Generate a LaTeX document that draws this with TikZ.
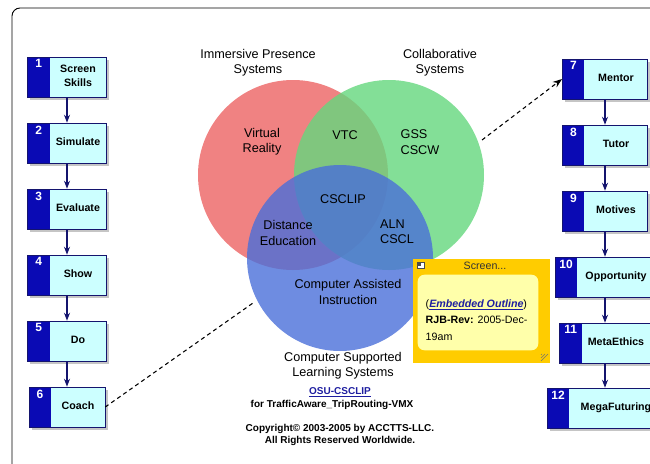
\documentclass[tikz,border=0pt]{standalone}
\usepackage{fontspec}
\setmainfont{Liberation Sans}
\usetikzlibrary{arrows.meta,shadows}

\definecolor{stepblue}{RGB}{10,10,180}
\definecolor{stepfill}{RGB}{204,255,255}
\definecolor{navy}{RGB}{20,20,110}
\definecolor{redc}{RGB}{240,130,130}
\definecolor{greenc}{RGB}{100,215,125}
\definecolor{bluec}{RGB}{74,111,217}
\definecolor{notegold}{RGB}{255,204,0}
\definecolor{notein}{RGB}{255,255,170}
\definecolor{linkblue}{RGB}{30,30,160}

\newcommand{\boxtext}[1]{\hspace*{16.5pt}\begin{tabular}{@{}c@{}}#1\end{tabular}}

\begin{document}
\begin{tikzpicture}[x=0.75pt,y=-0.75pt,
	stepbox/.style={rectangle, draw=navy, fill=stepfill, minimum height=30pt, inner sep=1pt,
		font=\bfseries\fontsize{8}{10.5}\selectfont,
		drop shadow={shadow xshift=2pt, shadow yshift=-2pt, fill=black!45},
		path picture={\fill[stepblue] (path picture bounding box.north west) rectangle ([xshift=16.5pt]path picture bounding box.south west);}},
	numtext/.style={anchor=north west, minimum width=16.5pt, inner xsep=0pt, inner ysep=2pt, text=white, font=\bfseries\fontsize{9}{9}\selectfont},
	venntext/.style={align=center, font=\fontsize{9.5}{11.5}\selectfont},
	note/.style={rectangle, fill=notegold, minimum width=102.75pt, minimum height=78pt},
	credit/.style={align=center, font=\bfseries\fontsize{7.5}{9.5}\selectfont},
	flow/.style={navy, line width=1pt, ->},
	link/.style={black, line width=0.8pt, dash pattern=on 3pt off 2.5pt},
	>={Stealth[length=6pt, width=4.5pt]}]

	\useasboundingbox (0,0) rectangle (650,464);
	\draw[line width=0.7pt, rounded corners=6pt] (12,480) -- (12,8) -- (670,8);

	%Circles
	\fill[redc] (293,175) circle[radius=71.25pt];
	\fill[greenc, fill opacity=0.8] (389,175) circle[radius=71.25pt];
	\fill[bluec, fill opacity=0.8] (340,258) circle[radius=69.75pt];

	%Nodes
	\node[stepbox, minimum width=59pt, label={[numtext]north west:1}]	(s1)	at (67,77)	{\boxtext{Screen\\Skills}};
	\node[stepbox, minimum width=59pt, label={[numtext]north west:2}]	(s2)	at (67,143)	{\boxtext{Simulate}};
	\node[stepbox, minimum width=59pt, label={[numtext]north west:3}]	(s3)	at (67,209)	{\boxtext{Evaluate}};
	\node[stepbox, minimum width=59pt, label={[numtext]north west:4}]	(s4)	at (67,275)	{\boxtext{Show}};
	\node[stepbox, minimum width=59pt, label={[numtext]north west:5}]	(s5)	at (67,341)	{\boxtext{Do}};
	\node[stepbox, minimum width=57pt, label={[numtext]north west:6}]	(s6)	at (67,407)	{\boxtext{Coach}};

	\node[stepbox, minimum width=64pt, label={[numtext]north west:7}]	(s7)	at (605,79)	{\boxtext{Mentor}};
	\node[stepbox, minimum width=64pt, label={[numtext]north west:8}]	(s8)	at (605,145)	{\boxtext{Tutor}};
	\node[stepbox, minimum width=64pt, label={[numtext]north west:9}]	(s9)	at (605,211)	{\boxtext{Motives}};
	\node[stepbox, minimum width=75pt, label={[numtext]north west:10}]	(s10)	at (605,277)	{\boxtext{Opportunity}};
	\node[stepbox, minimum width=68pt, label={[numtext]north west:11}]	(s11)	at (605,343)	{\boxtext{MetaEthics}};
	\node[stepbox, minimum width=87pt, label={[numtext]north west:12}]	(s12)	at (605,408)	{\boxtext{MegaFuturing}};

	\node[note]	(memo)	at (481.5,311)	{};
	\fill[notein, rounded corners=5pt] ([shift={(5,16)}]memo.north west) rectangle ([shift={(-12,-13)}]memo.south east);
	\draw[black!70, fill=white, line width=0.4pt] (417,262) rectangle (424,268);
	\fill[black!70] (418,263) rectangle (421,265.5);
	\foreach \d in {0,3,6}
		\draw[black!55, line width=0.5pt] (548-\d,354) -- (541,361-\d);

	%Labels
	\node[venntext]	(ips)	at (258,63)	{Immersive Presence\\Systems};
	\node[venntext]	(cols)	at (440,63)	{Collaborative\\Systems};
	\node[venntext]	(vr)	at (262,142)	{Virtual\\Reality};
	\node[venntext]	(vtc)	at (345,135)	{VTC};
	\node[venntext, align=left]	(gss)	at (420,142)	{GSS\\CSCW};
	\node[venntext]	(csclip)	at (343,199)	{CSCLIP};
	\node[venntext]	(de)	at (288,233)	{Distance\\Education};
	\node[venntext, align=left]	(aln)	at (397,232)	{ALN\\CSCL};
	\node[venntext]	(cai)	at (348,292)	{Computer Assisted\\Instruction};
	\node[venntext]	(csls)	at (343,366)	{Computer Supported\\Learning Systems};
	\node[credit, text=linkblue]	(osu)	at (340,392)	{\underline{OSU-CSCLIP}};
	\node[credit]	(trip)	at (332,405)	{for TrafficAware\_TripRouting-VMX};
	\node[credit]	(copy)	at (340,435)	{Copyright© 2003-2005 by ACCTTS-LLC.\\All Rights Reserved Worldwide.};

	\node[font=\fontsize{8}{9}\selectfont, text=black!80]	(scr)	at (485,266)	{Screen...};
	\node[anchor=west, align=left, font=\fontsize{8}{12.5}\selectfont]	(memotext)	at (421,320)
		{(\textcolor{linkblue}{\bfseries\itshape\underline{Embedded Outline}})\\\textbf{RJB-Rev:} 2005-Dec-\\19am};

	%Lines
	\coordinate (bluerim)	at (253,303);
	\coordinate (greenrim)	at (482,140);
	\draw[flow] (s1) -- (s2);
	\draw[flow] (s2) -- (s3);
	\draw[flow] (s3) -- (s4);
	\draw[flow] (s4) -- (s5);
	\draw[flow] (s5) -- (s6);
	\draw[flow] (s7) -- (s8);
	\draw[flow] (s8) -- (s9);
	\draw[flow] (s9) -- (s10);
	\draw[flow] (s10) -- (s11);
	\draw[flow] (s11) -- (s12);
	\draw[link] (s6.east) -- (bluerim);
	\draw[link, ->, >={Stealth[length=7pt, width=5pt]}] (greenrim) -- (s7.west);
\end{tikzpicture}
\end{document}
